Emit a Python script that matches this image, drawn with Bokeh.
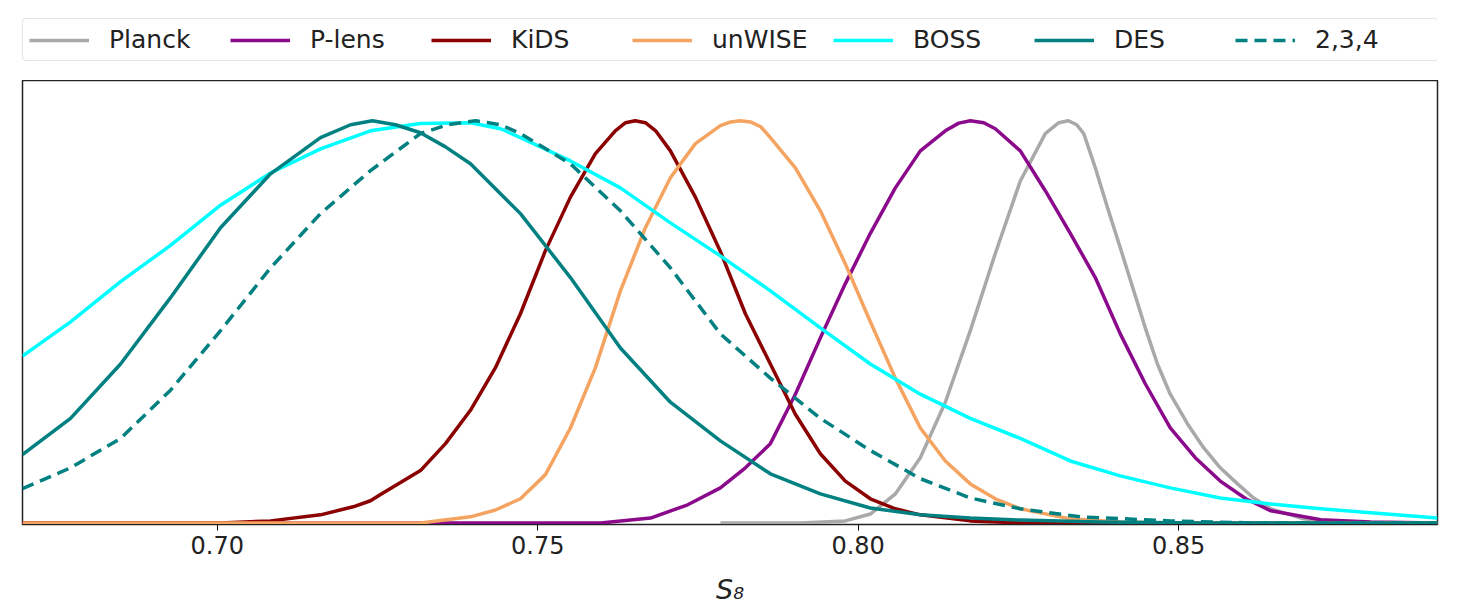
from bokeh.plotting import figure
from bokeh.layouts import column
from bokeh.models import Range1d, FixedTicker, Legend, LegendItem
from bokeh.embed import file_html
from bokeh.resources import INLINE

# ---------------- data ----------------
s8_planck = [0.7785, 0.7910, 0.7980, 0.8019, 0.8058, 0.8097, 0.8136, 0.8175, 0.8214,
             0.8253, 0.8292, 0.8313, 0.8328, 0.8341, 0.8352, 0.8370, 0.8389, 0.8409, 0.8430,
             0.8448, 0.8467, 0.8487, 0.8514, 0.8539, 0.8565, 0.8592, 0.8617, 0.8644,
             0.8695, 0.8753, 0.8904]
pdf_planck = [0.0, 0.0, 0.005, 0.022, 0.072, 0.162, 0.300, 0.478, 0.670,
              0.850, 0.968, 0.995, 1.000, 0.990, 0.968, 0.883, 0.784, 0.684, 0.577,
              0.485, 0.395, 0.320, 0.246, 0.187, 0.137, 0.097, 0.062, 0.035,
              0.010, 0.0, 0.0]

s8_plens = [0.6696, 0.7598, 0.7676, 0.7734, 0.7785, 0.7824, 0.7863, 0.7902, 0.7941,
            0.7980, 0.8019, 0.8058, 0.8097, 0.8136, 0.8157, 0.8175, 0.8196, 0.8214,
            0.8253, 0.8292, 0.8331, 0.8370, 0.8409, 0.8448, 0.8487, 0.8526, 0.8565,
            0.8605, 0.8644, 0.8722, 0.8800, 0.8904]
pdf_plens = [0.0, 0.0, 0.012, 0.045, 0.087, 0.137, 0.197, 0.320, 0.460,
             0.595, 0.720, 0.833, 0.925, 0.975, 0.994, 1.000, 0.995, 0.980,
             0.925, 0.826, 0.720, 0.610, 0.470, 0.346, 0.236, 0.162, 0.104,
             0.060, 0.030, 0.008, 0.002, 0.0]

s8_kids = [0.6696, 0.7005, 0.7083, 0.7161, 0.7212, 0.7239, 0.7254, 0.7317, 0.7356,
           0.7395, 0.7434, 0.7473, 0.7512, 0.7551, 0.7590, 0.7621, 0.7637, 0.7652,
           0.7668, 0.7684, 0.7707, 0.7746, 0.7785, 0.7824, 0.7863, 0.7902, 0.7941,
           0.7980, 0.8019, 0.8058, 0.8097, 0.8175, 0.8253, 0.8904]
pdf_kids = [0.0, 0.0, 0.005, 0.020, 0.040, 0.055, 0.070, 0.130, 0.197,
            0.280, 0.386, 0.520, 0.677, 0.810, 0.918, 0.975, 0.995, 1.000,
            0.995, 0.975, 0.925, 0.810, 0.675, 0.520, 0.395, 0.270, 0.172,
            0.104, 0.060, 0.035, 0.020, 0.005, 0.0, 0.0]

s8_unwise = [0.6696, 0.7317, 0.7395, 0.7434, 0.7473, 0.7512, 0.7551, 0.7590, 0.7629,
             0.7668, 0.7707, 0.7746, 0.7785, 0.7801, 0.7816, 0.7832, 0.7848, 0.7863,
             0.7902, 0.7941, 0.7980, 0.8019, 0.8058, 0.8097, 0.8136, 0.8175, 0.8214,
             0.8253, 0.8331, 0.8409, 0.8487, 0.8904]
pdf_unwise = [0.0, 0.0, 0.015, 0.032, 0.060, 0.120, 0.236, 0.386, 0.577,
              0.734, 0.858, 0.943, 0.988, 0.997, 1.000, 0.997, 0.985, 0.958,
              0.883, 0.776, 0.644, 0.500, 0.360, 0.236, 0.154, 0.097, 0.060,
              0.035, 0.010, 0.002, 0.0, 0.0]

s8_boss = [0.6696, 0.6771, 0.6849, 0.6927, 0.7005, 0.7083, 0.7161, 0.7239, 0.7317,
           0.7395, 0.7442, 0.7473, 0.7551, 0.7629, 0.7707, 0.7785, 0.7863, 0.7941,
           0.8019, 0.8097, 0.8175, 0.8253, 0.8331, 0.8409, 0.8487, 0.8565, 0.8644,
           0.8722, 0.8800, 0.8904]
pdf_boss = [0.415, 0.500, 0.600, 0.690, 0.790, 0.870, 0.930, 0.975, 0.993,
            0.995, 0.980, 0.958, 0.900, 0.833, 0.746, 0.664, 0.577, 0.485,
            0.395, 0.320, 0.260, 0.210, 0.154, 0.117, 0.087, 0.062, 0.047,
            0.035, 0.025, 0.012]

s8_des = [0.6696, 0.6771, 0.6849, 0.6927, 0.7005, 0.7083, 0.7161, 0.7208, 0.7242,
          0.7278, 0.7317, 0.7356, 0.7395, 0.7473, 0.7551, 0.7629, 0.7707, 0.7785,
          0.7863, 0.7941, 0.8019, 0.8097, 0.8175, 0.8253, 0.8378, 0.8534, 0.8904]
pdf_des = [0.170, 0.260, 0.395, 0.560, 0.734, 0.868, 0.958, 0.990, 1.000,
           0.990, 0.970, 0.935, 0.893, 0.769, 0.610, 0.435, 0.300, 0.204,
           0.122, 0.072, 0.037, 0.020, 0.012, 0.007, 0.002, 0.0, 0.0]

s8_des2 = [0.6696, 0.6771, 0.6849, 0.6927, 0.7005, 0.7083, 0.7161, 0.7239, 0.7317,
           0.7359, 0.7403, 0.7442, 0.7473, 0.7551, 0.7629, 0.7707, 0.7785, 0.7863,
           0.7941, 0.8019, 0.8097, 0.8175, 0.8253, 0.8347, 0.8487, 0.8612, 0.8904]
pdf_des2 = [0.085, 0.137, 0.210, 0.330, 0.478, 0.634, 0.769, 0.876, 0.968,
            0.990, 1.000, 0.990, 0.968, 0.893, 0.776, 0.634, 0.470, 0.360,
            0.260, 0.180, 0.110, 0.062, 0.035, 0.015, 0.005, 0.0, 0.0]

series_labels = ["Planck", "P-lens", "KiDS", "unWISE", "BOSS", "DES", "2,3,4"]
series_colors = ["#a9a9a9", "#8b098b", "#8b0000", "#f4a460", "#00ffff", "#008080", "#008080"]
series_dash = ["solid", "solid", "solid", "solid", "solid", "solid", "12 7"]

tick_values = [0.70, 0.75, 0.80, 0.85]
tick_labels = ["0.70", "0.75", "0.80", "0.85"]
x_label = "S\u2088"

LW = 3.5
xs = [s8_planck, s8_plens, s8_kids, s8_unwise, s8_boss, s8_des, s8_des2]
ys = [pdf_planck, pdf_plens, pdf_kids, pdf_unwise, pdf_boss, pdf_des, pdf_des2]

# ---------------- main figure ----------------
p = figure(width=1457, height=527, output_backend="svg", toolbar_location=None,
           x_range=Range1d(0.6696, 0.8904), y_range=Range1d(-0.004, 1.10),
           min_border_left=22, min_border_right=20, min_border_top=0,
           min_border_bottom=83)
p.background_fill_color = "white"
p.border_fill_color = "white"
p.grid.visible = False
p.yaxis.visible = False
p.outline_line_color = "#222222"
p.outline_line_width = 1.5

for i, (x, y) in enumerate(zip(xs, ys)):
    p.line(x, y, line_color=series_colors[i], line_width=LW, line_dash=series_dash[i],
           line_join="round")

ax = p.xaxis[0]
ax.ticker = FixedTicker(ticks=tick_values)
ax.major_label_overrides = {v: t for v, t in zip(tick_values, tick_labels)}
ax.major_label_text_font = "DejaVu Sans"
ax.major_label_text_font_size = "24px"
ax.major_label_text_color = "#222222"
ax.major_tick_out = 6
ax.major_tick_in = 0
ax.major_label_standoff = 5
ax.minor_tick_line_color = None
ax.axis_line_color = "#222222"
ax.axis_label = x_label
ax.axis_label_text_font = "DejaVu Sans"
ax.axis_label_text_font_size = "27px"
ax.axis_label_text_font_style = "italic"
ax.axis_label_text_color = "#222222"
ax.axis_label_standoff = 17

# ---------------- legend strip (top) ----------------
# same series drawn again, but outside the visible y range of this strip,
# so only their legend entries show
lg = figure(width=1457, height=80, output_backend="svg", toolbar_location=None,
            x_range=Range1d(0.6696, 0.8904), y_range=Range1d(5, 6),
            min_border_left=0, min_border_right=0, min_border_top=0, min_border_bottom=0)
lg.axis.visible = False
lg.grid.visible = False
lg.outline_line_color = None
lg.background_fill_color = "white"
lg.border_fill_color = "white"
items = []
for i, lab in enumerate(series_labels):
    r = lg.line(xs[i], ys[i], line_color=series_colors[i], line_width=LW,
                line_dash=series_dash[i])
    items.append(LegendItem(label=lab, renderers=[r]))

legend = Legend(items=items, orientation="horizontal", location=(0, 19))
legend.label_text_font = "DejaVu Sans"
legend.label_text_font_size = "25px"
legend.label_text_color = "#222222"
legend.glyph_width = 60
legend.glyph_height = 24
legend.label_standoff = 20
legend.label_width = 116
legend.spacing = 5
legend.padding = 6
legend.margin = 0
legend.border_line_color = "#cccccc"
legend.border_line_width = 1.5
legend.border_radius = 4
legend.background_fill_color = "white"
legend.background_fill_alpha = 1.0
lg.add_layout(legend)

layout = column(lg, p, spacing=0)
open("out.html", "w").write(file_html(layout, INLINE))
